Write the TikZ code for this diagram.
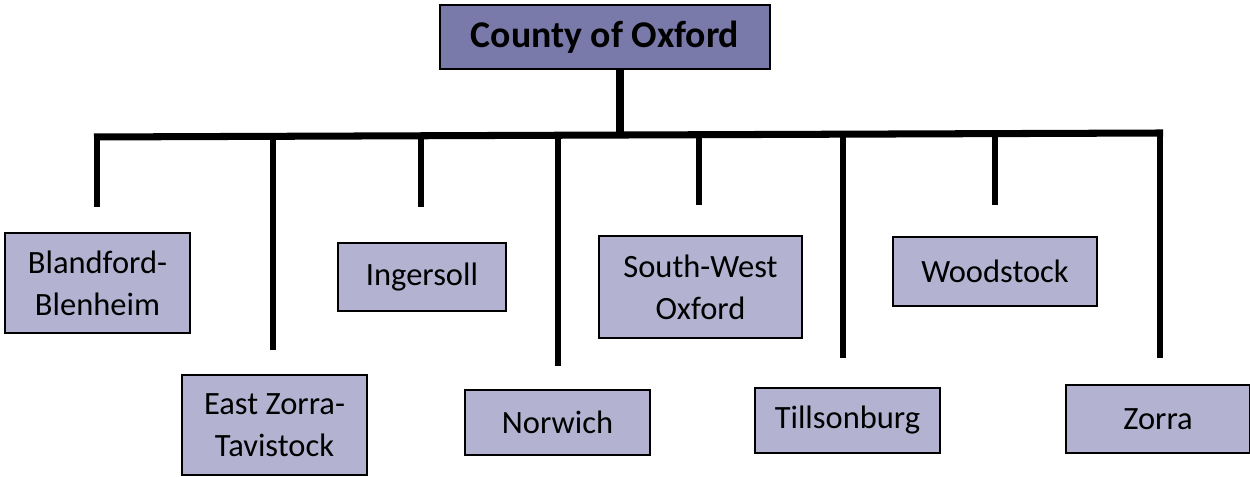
\documentclass[tikz,border=0pt]{standalone}
\usepackage{fontspec}
\setmainfont{Carlito}
\definecolor{countyfill}{HTML}{7A7AAA}
\definecolor{townfill}{HTML}{B3B3D1}
\begin{document}
\begin{tikzpicture}[
        scale=1,
        font=\fontsize{18.5}{24}\selectfont
    ]
    \tikzset{
        countynode/.style = {rectangle, draw=black, line width=0.9pt, fill=countyfill, minimum width=6.6cm, minimum height=1.28cm, font=\fontsize{21.5}{26}\selectfont\bfseries},
        townnode/.style = {rectangle, draw=black, line width=0.8pt, fill=townfill, align=center, inner sep=0pt},
        edgebus/.style = {-, line width=4pt},
        edgedrop/.style = {-, line width=3.3pt},
    }
    \useasboundingbox (0,0) rectangle (25,9.54);
    \node[countynode] at (12.1,8.8) (county) {County of Oxford};
    %
    \node[townnode, minimum width=3.7cm, minimum height=2.0cm] at (1.95,3.88) (blandford) {Blandford-\\Blenheim};
    \node[townnode, minimum width=3.7cm, minimum height=2.0cm] at (5.49,1.04) (eastzorra) {East Zorra-\\Tavistock};
    \node[townnode, minimum width=3.36cm, minimum height=1.36cm] at (8.44,4.0) (ingersoll) {Ingersoll};
    \node[townnode, minimum width=3.7cm, minimum height=1.3cm] at (11.15,1.09) (norwich) {Norwich};
    \node[townnode, minimum width=4.06cm, minimum height=2.04cm] at (14.01,3.8) (southwest) {South-West\\Oxford};
    \node[townnode, minimum width=3.7cm, minimum height=1.3cm] at (16.95,1.13) (tillsonburg) {Tillsonburg};
    \node[townnode, minimum width=4.08cm, minimum height=1.38cm] at (19.9,4.11) (woodstock) {Woodstock};
    \node[townnode, minimum width=3.68cm, minimum height=1.36cm] at (23.16,1.16) (zorra) {Zorra};
    %
    \coordinate (busl) at (1.88,6.80);
    \coordinate (busr) at (23.26,6.88);
    \coordinate (trunk) at (12.4,6.84);
    \draw[edgebus] (busl) -- (busr);
    \draw[line width=4.5pt] ([xshift=3mm]county.south) -- (trunk);
    %
    \foreach \name/\x/\y in {blandford/1.94/5.4, eastzorra/5.46/2.54, ingersoll/8.42/5.4,
        norwich/11.16/2.22, southwest/13.98/5.44, tillsonburg/16.86/2.38,
        woodstock/19.9/5.44, zorra/23.2/2.38}
    {
        \coordinate (top-\name) at (\x,6.86);
        \coordinate (end-\name) at (\x,\y);
        \draw[edgedrop] (top-\name) -- (end-\name);
    }
\end{tikzpicture}
\end{document}
